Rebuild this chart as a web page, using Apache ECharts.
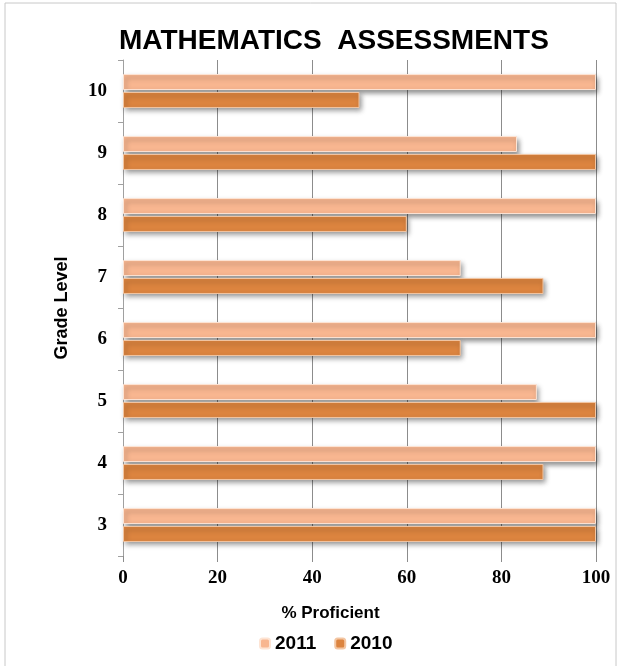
<!DOCTYPE html>
<html>
<head>
<meta charset="utf-8">
<script src="https://cdn.jsdelivr.net/npm/echarts@6/dist/echarts.min.js"></script>
<style>
  html, body { margin: 0; padding: 0; background: #fff; }
  #main { width: 629px; height: 666px; }
</style>
</head>
<body>
<div id="main"></div>
<script>
// grade levels, bottom to top
var grades = ['3', '4', '5', '6', '7', '8', '9', '10'];
var data2011 = [100, 100, 87.5, 100, 71.4, 100, 83.3, 100];
var data2010 = [100, 88.9, 100, 71.4, 88.9, 60, 100, 50];
var xTicks = [0, 20, 40, 60, 80, 100];

var chart = echarts.init(document.getElementById('main'));

var numFont = '"Liberation Serif", "DejaVu Serif", serif';
var textFont = '"Liberation Sans", sans-serif';

chart.setOption({
  animation: false,
  backgroundColor: '#fff',
  title: {
    text: 'MATHEMATICS  ASSESSMENTS',
    left: 114,
    top: 22,
    textStyle: {
      fontFamily: textFont,
      fontWeight: 'bold',
      fontSize: 28,
      color: '#000'
    }
  },
  graphic: [{
    type: 'rect',
    shape: { x: 5, y: 3, width: 611, height: 680 },
    style: { fill: 'none', stroke: '#c8c8c8', lineWidth: 1 },
    silent: true
  }],
  legend: {
    bottom: 8,
    left: 254,
    itemWidth: 10,
    itemHeight: 10,
    itemGap: 18,
    data: ['2011', '2010'],
    textStyle: {
      fontFamily: textFont,
      fontWeight: 'bold',
      fontSize: 19,
      color: '#000'
    }
  },
  grid: { left: 123, right: 33, top: 60, bottom: 110 },
  xAxis: {
    type: 'value',
    min: xTicks[0],
    max: xTicks[xTicks.length - 1],
    interval: 20,
    name: '% Proficient',
    nameLocation: 'middle',
    nameGap: 49,
    nameTextStyle: {
      fontFamily: textFont,
      fontWeight: 'bold',
      fontSize: 17,
      color: '#000',
      padding: [0, 58, 0, 0]
    },
    axisLine: { show: false },
    axisTick: { show: true, length: 6, lineStyle: { color: '#8c8c8c' } },
    splitLine: { show: true, lineStyle: { color: '#8c8c8c', width: 1 } },
    axisLabel: {
      margin: 13,
      fontFamily: numFont,
      fontWeight: 'bold',
      fontSize: 19,
      color: '#000'
    }
  },
  yAxis: {
    type: 'category',
    data: grades,
    name: 'Grade Level',
    nameLocation: 'middle',
    nameGap: 52,
    nameRotate: 90,
    nameTextStyle: {
      fontFamily: textFont,
      fontWeight: 'bold',
      fontSize: 18,
      color: '#000'
    },
    axisLine: { show: true, lineStyle: { color: '#a0a0a0' } },
    axisTick: { show: true, length: 5, lineStyle: { color: '#a0a0a0' } },
    axisLabel: {
      margin: 16,
      fontFamily: numFont,
      fontWeight: 'bold',
      fontSize: 19,
      color: '#000'
    }
  },
  series: [
    {
      name: '2011',
      type: 'bar',
      data: data2011,
      barWidth: 16,
      barGap: '12%',
      itemStyle: {
        color: '#f8b690',
        borderColor: '#fde4d4',
        borderWidth: 1,
        shadowColor: 'rgba(0,0,0,0.45)',
        shadowBlur: 5,
        shadowOffsetX: 2,
        shadowOffsetY: 3
      }
    },
    {
      name: '2010',
      type: 'bar',
      data: data2010,
      barWidth: 16,
      barGap: '12%',
      itemStyle: {
        color: '#dc843f',
        borderColor: '#f3c6a3',
        borderWidth: 1,
        shadowColor: 'rgba(0,0,0,0.45)',
        shadowBlur: 5,
        shadowOffsetX: 2,
        shadowOffsetY: 3
      }
    }
  ]
});
</script>
</body>
</html>
